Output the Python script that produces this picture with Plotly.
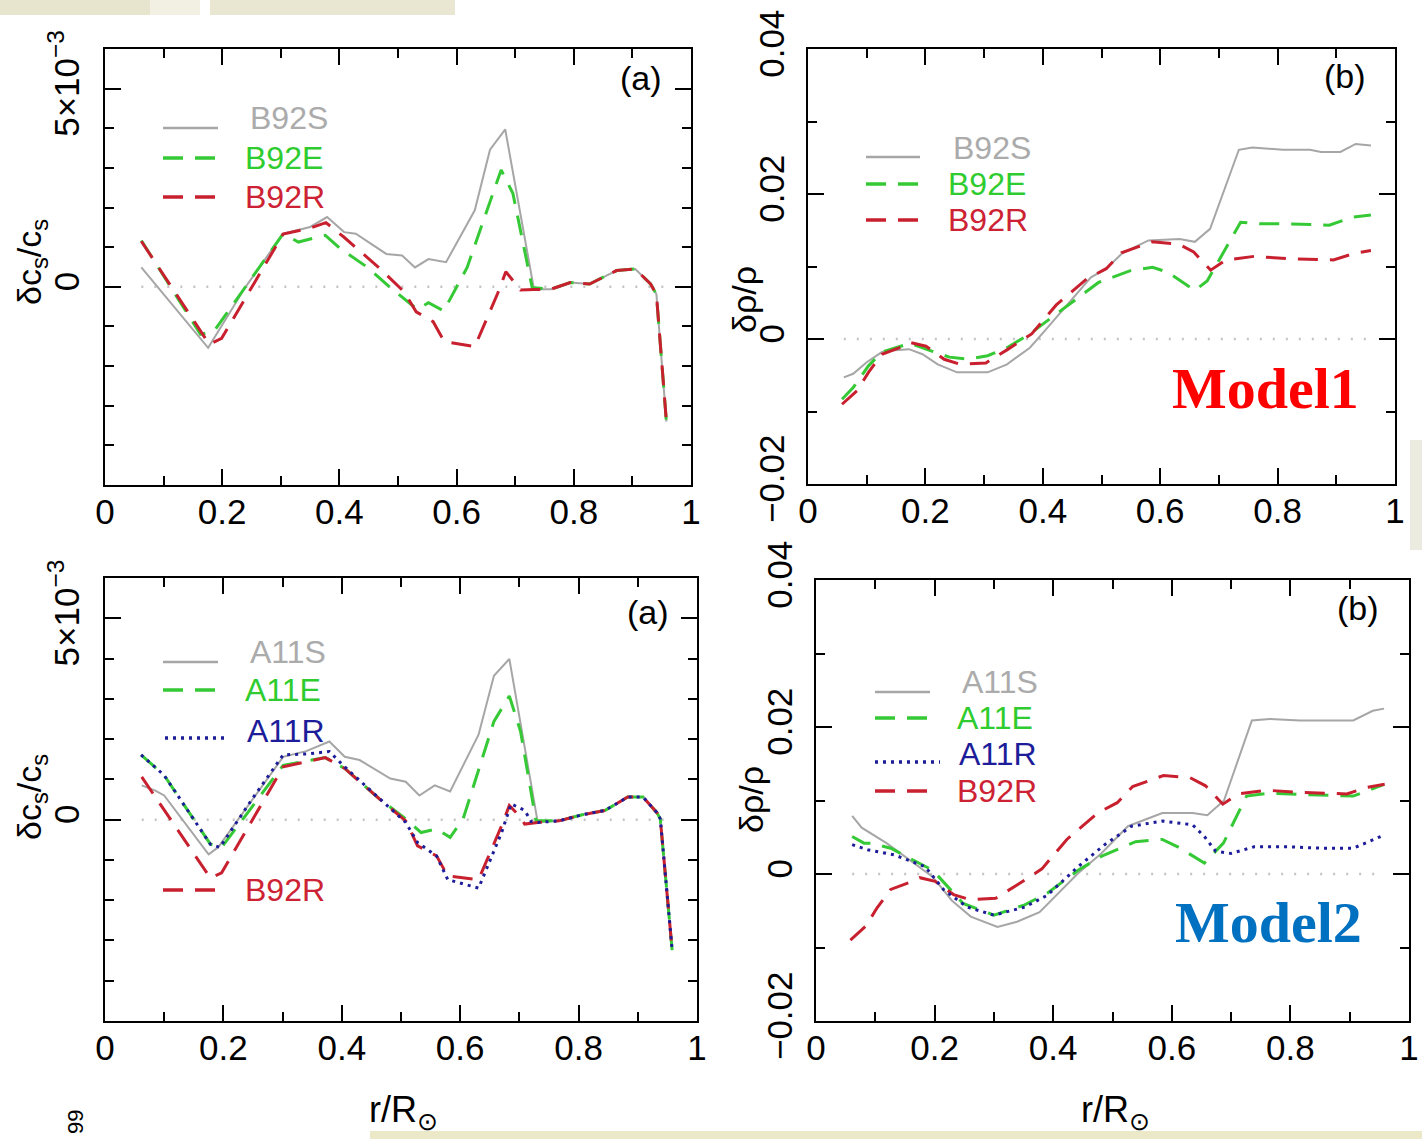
import plotly.graph_objects as go

W, H = 1422, 1139

# ---------------- Model 1 : sound-speed differences (units of 1e-3) ----------------
r_b92s_cs_m1 = [0.062, 0.120, 0.176, 0.240, 0.304, 0.350, 0.379, 0.408, 0.428, 0.480, 0.507,
                0.529, 0.552, 0.582, 0.631, 0.657, 0.683, 0.732, 0.761, 0.794, 0.827, 0.873,
                0.905, 0.931, 0.941, 0.958]
b92s_cs_m1 = [0.49, -0.55, -1.54, 0.00, 1.34, 1.51, 1.76, 1.38, 1.34, 0.83, 0.79,
              0.49, 0.70, 0.62, 1.93, 3.46, 3.97, -0.06, -0.06, 0.11, 0.07, 0.41,
              0.45, 0.07, -0.19, -3.40]

r_b92e_cs_m1 = [0.062, 0.163, 0.186, 0.304, 0.330, 0.376, 0.402, 0.448, 0.487, 0.533, 0.552,
                0.578, 0.618, 0.676, 0.696, 0.729, 0.761, 0.794, 0.827, 0.873, 0.905, 0.931,
                0.941, 0.958]
b92e_cs_m1 = [1.17, -1.20, -1.12, 1.34, 1.13, 1.30, 0.96, 0.49, -0.02, -0.57, -0.40,
              -0.61, 0.49, 2.95, 2.36, -0.02, -0.06, 0.11, 0.07, 0.41, 0.45, 0.07,
              -0.19, -3.40]

r_b92r_cs_m1 = [0.062, 0.178, 0.199, 0.304, 0.350, 0.377, 0.408, 0.470, 0.510, 0.531, 0.560,
                0.579, 0.631, 0.670, 0.684, 0.700, 0.709, 0.732, 0.761, 0.794, 0.827, 0.873,
                0.905, 0.931, 0.941, 0.958]
b92r_cs_m1 = [1.15, -1.45, -1.30, 1.33, 1.48, 1.62, 1.25, 0.45, -0.12, -0.63, -0.88,
              -1.38, -1.51, -0.17, 0.38, 0.07, -0.08, -0.07, -0.06, 0.11, 0.07, 0.41,
              0.45, 0.07, -0.19, -3.40]

# ---------------- Model 1 : density differences ----------------
r_b92s_rho = [0.061, 0.077, 0.100, 0.126, 0.142, 0.172, 0.195, 0.221, 0.254, 0.306, 0.339,
              0.378, 0.404, 0.443, 0.482, 0.508, 0.535, 0.580, 0.633, 0.659, 0.685, 0.734,
              0.757, 0.809, 0.855, 0.874, 0.907, 0.933, 0.959]
b92s_rho = [-0.0053, -0.0048, -0.0032, -0.0018, -0.0016, -0.0014, -0.0021, -0.0035, -0.0046,
            -0.0046, -0.0035, -0.0012, 0.0012, 0.0048, 0.0085, 0.0097, 0.0118, 0.0136, 0.0138,
            0.0134, 0.0152, 0.0261, 0.0264, 0.0261, 0.0261, 0.0258, 0.0258, 0.0269, 0.0267]

r_b92e_rho = [0.058, 0.077, 0.103, 0.126, 0.162, 0.175, 0.201, 0.241, 0.273, 0.306, 0.339,
              0.378, 0.404, 0.456, 0.495, 0.548, 0.587, 0.613, 0.659, 0.680, 0.737, 0.770,
              0.809, 0.888, 0.927, 0.959]
b92e_rho = [-0.0083, -0.0067, -0.0037, -0.0018, -0.0009, -0.0006, -0.0014, -0.0025, -0.0028,
            -0.0023, -0.0012, 0.0007, 0.0023, 0.0055, 0.0078, 0.0094, 0.0099, 0.0092, 0.0067,
            0.0080, 0.0161, 0.0159, 0.0159, 0.0157, 0.0168, 0.0171]

r_b92r_rho = [0.058, 0.084, 0.103, 0.126, 0.156, 0.175, 0.201, 0.232, 0.260, 0.303, 0.339,
              0.381, 0.423, 0.475, 0.508, 0.534, 0.586, 0.631, 0.657, 0.686, 0.712, 0.760,
              0.815, 0.895, 0.930, 0.959]
b92r_rho = [-0.0090, -0.0071, -0.0046, -0.0021, -0.0012, -0.0005, -0.0010, -0.0028, -0.0035,
            -0.0033, -0.0015, 0.0007, 0.0047, 0.0083, 0.0097, 0.0119, 0.0134, 0.0131, 0.0120,
            0.0095, 0.0109, 0.0114, 0.0111, 0.0109, 0.0118, 0.0122]

# ---------------- Model 2 : sound-speed differences (units of 1e-3) ----------------
r_a11s_cs = [0.062, 0.085, 0.100, 0.175, 0.191, 0.301, 0.340, 0.379, 0.405, 0.430, 0.482,
             0.508, 0.531, 0.557, 0.583, 0.631, 0.657, 0.683, 0.731, 0.767, 0.806, 0.845,
             0.883, 0.909, 0.932, 0.938, 0.958]
a11s_cs = [0.85, 0.72, 0.60, -0.86, -0.69, 1.56, 1.70, 1.94, 1.56, 1.48, 1.02,
           0.94, 0.60, 0.85, 0.70, 2.11, 3.57, 3.99, -0.07, -0.03, 0.12, 0.23,
           0.56, 0.56, 0.18, 0.02, -3.24]

r_a11e_cs = [0.061, 0.100, 0.178, 0.197, 0.301, 0.372, 0.405, 0.463, 0.508, 0.534, 0.560,
             0.583, 0.605, 0.657, 0.683, 0.702, 0.728, 0.767, 0.806, 0.845, 0.883, 0.909,
             0.932, 0.938, 0.958]
a11e_cs = [1.61, 1.10, -0.61, -0.69, 1.35, 1.54, 1.27, 0.52, 0.02, -0.32, -0.23,
           -0.44, 0.02, 2.44, 3.07, 2.19, -0.03, -0.03, 0.12, 0.23, 0.56, 0.56,
           0.18, 0.02, -3.24]

r_a11r_cs = [0.061, 0.100, 0.178, 0.194, 0.249, 0.301, 0.340, 0.379, 0.405, 0.463, 0.508,
             0.528, 0.560, 0.579, 0.631, 0.670, 0.686, 0.709, 0.720, 0.731, 0.767, 0.806,
             0.845, 0.883, 0.909, 0.932, 0.938, 0.958]
a11r_cs = [1.61, 1.10, -0.61, -0.69, 0.52, 1.61, 1.63, 1.69, 1.31, 0.52, -0.07,
           -0.57, -0.90, -1.49, -1.70, -0.32, 0.39, 0.23, -0.05, -0.07, -0.03, 0.12,
           0.23, 0.56, 0.56, 0.18, 0.02, -3.24]

r_b92r_cs_m2 = [0.062, 0.178, 0.197, 0.301, 0.372, 0.405, 0.463, 0.508, 0.528, 0.560, 0.579,
                0.631, 0.670, 0.683, 0.702, 0.709, 0.731, 0.767, 0.806, 0.845, 0.883, 0.909,
                0.932, 0.938, 0.958]
b92r_cs_m2 = [1.06, -1.45, -1.32, 1.31, 1.54, 1.27, 0.52, -0.03, -0.65, -0.90, -1.40,
              -1.49, -0.15, 0.35, 0.06, -0.11, -0.07, -0.03, 0.12, 0.23, 0.56, 0.56,
              0.18, 0.02, -3.24]

# ---------------- Model 2 : density differences ----------------
r_a11s_rho = [0.061, 0.077, 0.119, 0.158, 0.197, 0.229, 0.261, 0.306, 0.339, 0.377, 0.403,
              0.442, 0.481, 0.526, 0.584, 0.635, 0.660, 0.688, 0.735, 0.765, 0.816, 0.906,
              0.939, 0.958]
a11s_rho = [0.0079, 0.0063, 0.0042, 0.0019, -0.0004, -0.0036, -0.0058, -0.0072, -0.0065,
            -0.0052, -0.0031, 0.0001, 0.0028, 0.0065, 0.0083, 0.0083, 0.0080, 0.0100, 0.0209,
            0.0211, 0.0209, 0.0209, 0.0222, 0.0225]

r_a11e_rho = [0.061, 0.081, 0.094, 0.126, 0.197, 0.248, 0.300, 0.352, 0.390, 0.442, 0.481,
              0.539, 0.584, 0.610, 0.655, 0.687, 0.726, 0.765, 0.829, 0.906, 0.958]
a11e_rho = [0.0051, 0.0042, 0.0042, 0.0035, 0.0005, -0.0040, -0.0056, -0.0042, -0.0026,
            0.0005, 0.0024, 0.0044, 0.0047, 0.0037, 0.0015, 0.0042, 0.0106, 0.0110, 0.0108,
            0.0106, 0.0122]

r_a11r_rho = [0.061, 0.087, 0.132, 0.184, 0.216, 0.255, 0.300, 0.352, 0.390, 0.442, 0.487,
              0.532, 0.584, 0.635, 0.655, 0.674, 0.700, 0.739, 0.797, 0.855, 0.906, 0.958]
a11r_rho = [0.0040, 0.0033, 0.0026, 0.0010, -0.0022, -0.0045, -0.0056, -0.0045, -0.0029,
            0.0010, 0.0040, 0.0065, 0.0072, 0.0067, 0.0051, 0.0031, 0.0028, 0.0037, 0.0037,
            0.0035, 0.0035, 0.0053]

CS_UNIT = 1e-3
x_ticks = [0, 0.2, 0.4, 0.6, 0.8, 1]

# ---------------- styles ----------------
NARROW = "Liberation Sans Narrow, Arial Narrow, Liberation Sans, Arial, sans-serif"
SANS = "Liberation Sans, Arial, Helvetica, sans-serif"
SERIF = "Liberation Serif, Times New Roman, serif"

GRAY, GREEN, RED, BLUE = "#a6a6a6", "#35c935", "#c8202e", "#1d1d9a"
STYLE = {
    "S": dict(color=GRAY, width=2),
    "E": dict(color=GREEN, width=3, dash="20px,12px"),
    "R": dict(color=RED, width=3, dash="20px,12px"),
    "A": dict(color=BLUE, width=3, dash="3px,5px"),
}


def fx(p):
    return p / W


def fy(p):
    return 1 - p / H


fig = go.Figure()

# panel frames in pixels: (left, right, top, bottom)
panels = {
    1: (105, 691, 49, 485),
    2: (808, 1395, 49, 484),
    3: (105, 697, 578, 1021),
    4: (816, 1409, 580, 1021),
}


def add_line(panel, r, v, style, name, scale=1.0):
    sfx = "" if panel == 1 else str(panel)
    fig.add_trace(go.Scatter(
        x=r, y=[val * scale for val in v], mode="lines", name=name,
        line=STYLE[style], xaxis="x" + sfx, yaxis="y" + sfx, showlegend=False,
        hoverinfo="skip"))


def add_zero(panel, r):
    sfx = "" if panel == 1 else str(panel)
    fig.add_trace(go.Scatter(
        x=[min(r), max(r)], y=[0, 0], mode="lines",
        line=dict(color="#c4c4c4", width=2.5, dash="2px,11px"),
        xaxis="x" + sfx, yaxis="y" + sfx, showlegend=False, hoverinfo="skip"))


# Model 1
add_zero(1, r_b92s_cs_m1)
add_line(1, r_b92s_cs_m1, b92s_cs_m1, "S", "B92S", CS_UNIT)
add_line(1, r_b92e_cs_m1, b92e_cs_m1, "E", "B92E", CS_UNIT)
add_line(1, r_b92r_cs_m1, b92r_cs_m1, "R", "B92R", CS_UNIT)

add_zero(2, r_b92s_rho)
add_line(2, r_b92s_rho, b92s_rho, "S", "B92S")
add_line(2, r_b92e_rho, b92e_rho, "E", "B92E")
add_line(2, r_b92r_rho, b92r_rho, "R", "B92R")

# Model 2
add_zero(3, r_a11s_cs)
add_line(3, r_a11s_cs, a11s_cs, "S", "A11S", CS_UNIT)
add_line(3, r_a11e_cs, a11e_cs, "E", "A11E", CS_UNIT)
add_line(3, r_b92r_cs_m2, b92r_cs_m2, "R", "B92R", CS_UNIT)
add_line(3, r_a11r_cs, a11r_cs, "A", "A11R", CS_UNIT)

add_zero(4, r_a11s_rho)
add_line(4, r_a11s_rho, a11s_rho, "S", "A11S")
add_line(4, r_a11e_rho, a11e_rho, "E", "A11E")
add_line(4, r_b92r_rho, b92r_rho, "R", "B92R")
add_line(4, r_a11r_rho, a11r_rho, "A", "A11R")

# ---------------- axes ----------------
common = dict(showline=True, linecolor="black", linewidth=2, mirror="ticks",
              ticks="inside", tickcolor="black", tickwidth=2, showgrid=False,
              zeroline=False, fixedrange=True, automargin=False)

layout = dict(
    template="none",
    width=W, height=H, autosize=False,
    margin=dict(l=0, r=0, t=0, b=0, pad=0, autoexpand=False),
    paper_bgcolor="white", plot_bgcolor="white", showlegend=False,
)

for p, (l, r, t, b) in panels.items():
    sfx = "" if p == 1 else str(p)
    layout["xaxis" + sfx] = {
        **common, "domain": [fx(l), fx(r)], "anchor": "y" + sfx, "range": [0, 1],
        "tickvals": x_ticks, "ticklen": 16,
        "minor": dict(tickvals=[0.1, 0.3, 0.5, 0.7, 0.9], ticks="inside", ticklen=9,
                      tickwidth=2, tickcolor="black", showgrid=False),
        "tickfont": dict(family=NARROW, size=35, color="black"), "ticklabelstandoff": -5}
    if p in (1, 3):
        yax = dict(range=[-0.005, 0.006], tickvals=[0, 0.005],
                   ticktext=["0", "5×10<sup>−3</sup>"],
                   minor=dict(tickvals=[-0.004, -0.003, -0.002, -0.001, 0.001, 0.002,
                                        0.003, 0.004, 0.006],
                              ticks="inside", ticklen=9, tickwidth=2, tickcolor="black",
                              showgrid=False),
                   ticklabelstandoff=10)
    else:
        yax = dict(range=[-0.02, 0.04], tickvals=[-0.02, 0, 0.02, 0.04],
                   ticktext=["−0.02", "0", "0.02", "0.04"],
                   minor=dict(tickvals=[-0.01, 0.01, 0.03], ticks="inside", ticklen=9,
                              tickwidth=2, tickcolor="black", showgrid=False),
                   ticklabelstandoff=8)
    layout["yaxis" + sfx] = {
        **common, **yax, "domain": [fy(b), fy(t)], "anchor": "x" + sfx, "ticklen": 16,
        "tickangle": -90, "tickfont": dict(family=SANS, size=35, color="black")}

fig.update_layout(**layout)

# ---------------- annotations ----------------
ann = []


def text(x, y, s, size=36, family=NARROW, color="black", angle=0, xanchor="center"):
    ann.append(dict(x=fx(x), y=fy(y), xref="paper", yref="paper", text=s,
                    showarrow=False, textangle=angle, xanchor=xanchor, yanchor="middle",
                    font=dict(family=family, size=size, color=color)))


# axis titles
cs_title = "δc<sub>s</sub>/c<sub>s</sub>"
rho_title = "δρ/ρ"
text(31, 262, cs_title, 34, SANS, angle=-90)
text(31, 797, cs_title, 34, SANS, angle=-90)
text(744, 300, rho_title, 34, SANS, angle=-90)
text(751, 800, rho_title, 34, SANS, angle=-90)
text(403, 1112, "r/R<sub>⊙</sub>", 36)
text(1115, 1112, "r/R<sub>⊙</sub>", 36)

# panel tags
text(641, 78, "(a)", 34)
text(1345, 76, "(b)", 34)
text(648, 612, "(a)", 34)
text(1358, 608, "(b)", 34)

# model labels
text(1265, 388, "<b>Model1</b>", 58, SERIF, "#ff0000")
text(1268, 922, "<b>Model2</b>", 58, SERIF, "#0070c0")

# trailing page fragment
text(75, 1122, "99", 22, SANS, angle=-90)

# legends: sample line + coloured label
shapes = []
LEG_COL = {"S": "#ababab", "E": "#2fcc2f", "R": "#cc2233", "A": "#1d1d9a"}


def legend_entry(x0, x1, ly, tx, ty, label, style):
    st = STYLE[style]
    shapes.append(dict(type="line", xref="paper", yref="paper",
                       x0=fx(x0), x1=fx(x1), y0=fy(ly), y1=fy(ly),
                       line=dict(color=st["color"], width=st["width"] + 0.5,
                                 dash=st.get("dash", "solid"))))
    text(tx, ty, label, 32, NARROW, LEG_COL[style], xanchor="left")


legend_entry(163, 218, 128, 248, 118, "B92S", "S")
legend_entry(163, 225, 158, 243, 158, "B92E", "E")
legend_entry(163, 225, 197, 243, 197, "B92R", "R")

legend_entry(866, 920, 157, 951, 148, "B92S", "S")
legend_entry(866, 928, 184, 946, 184, "B92E", "E")
legend_entry(866, 928, 220, 946, 220, "B92R", "R")

legend_entry(163, 218, 662, 248, 652, "A11S", "S")
legend_entry(163, 225, 690, 243, 690, "A11E", "E")
legend_entry(165, 228, 738, 245, 731, "A11R", "A")
legend_entry(163, 225, 890, 243, 890, "B92R", "R")

legend_entry(875, 930, 692, 960, 682, "A11S", "S")
legend_entry(875, 938, 718, 955, 718, "A11E", "E")
legend_entry(875, 940, 762, 957, 754, "A11R", "A")
legend_entry(875, 938, 791, 955, 791, "B92R", "R")

# faint page tint along the edges
for x0, x1, y0, y1, c in [(0, 150, 0, 15, "#e7e5cd"), (150, 200, 0, 15, "#f1f0e2"),
                          (210, 455, 0, 15, "#e9e7d2"), (1410, 1422, 440, 550, "#ecebe0"),
                          (370, 1422, 1131, 1139, "#ece9c9")]:
    shapes.append(dict(type="rect", xref="paper", yref="paper", layer="below",
                       x0=fx(x0), x1=fx(x1), y0=fy(y1), y1=fy(y0),
                       fillcolor=c, line=dict(width=0)))

fig.update_layout(annotations=ann, shapes=shapes)
fig.write_html("out.html")
